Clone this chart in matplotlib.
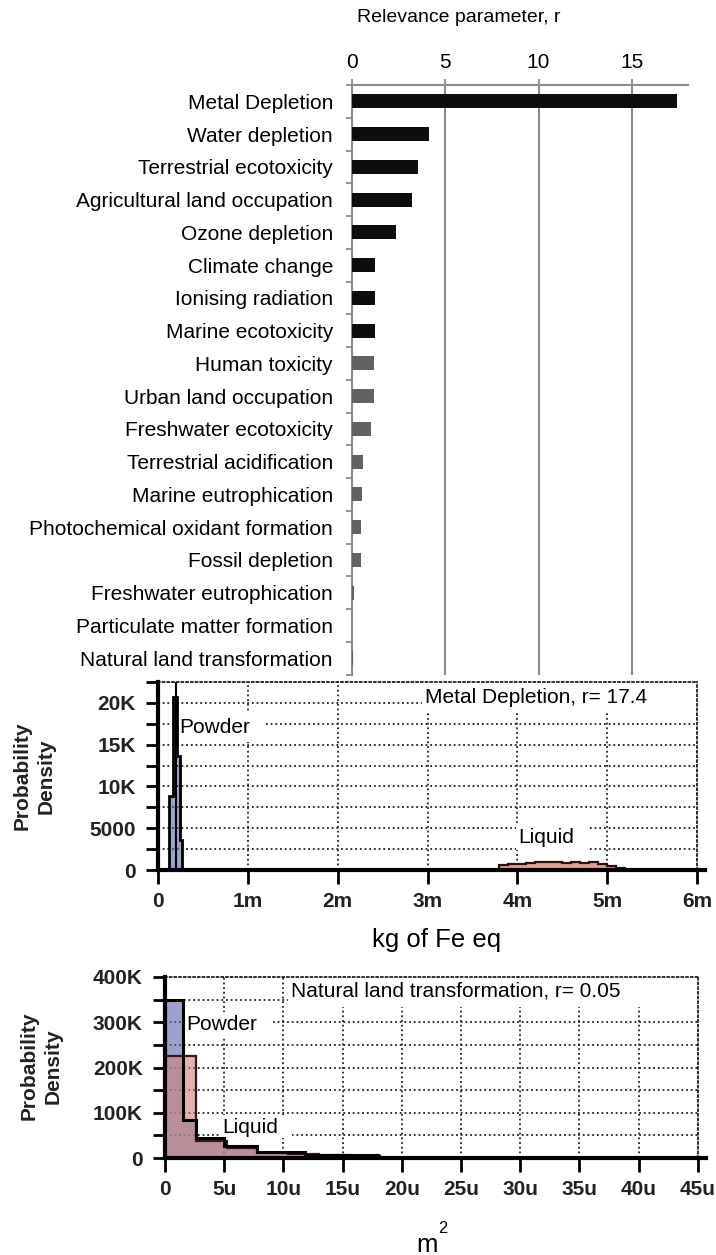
import numpy as np
import matplotlib
matplotlib.use('Agg')
import matplotlib.pyplot as plt
from matplotlib.patches import Rectangle
from matplotlib.ticker import FuncFormatter

plt.rcParams['font.family'] = ['Liberation Sans', 'DejaVu Sans']

# relevance parameter r per impact category
categories = ['Metal Depletion', 'Water depletion', 'Terrestrial ecotoxicity',
              'Agricultural land occupation', 'Ozone depletion', 'Climate change',
              'Ionising radiation', 'Marine ecotoxicity', 'Human toxicity',
              'Urban land occupation', 'Freshwater ecotoxicity', 'Terrestrial acidification',
              'Marine eutrophication', 'Photochemical oxidant formation', 'Fossil depletion',
              'Freshwater eutrophication', 'Particulate matter formation',
              'Natural land transformation']
relevance = [17.43, 4.16, 3.57, 3.25, 2.39, 1.27, 1.27, 1.27, 1.18, 1.18, 1.04,
             0.63, 0.57, 0.50, 0.48, 0.11, 0.01, 0.05]
significant = [True] * 8 + [False] * 10

# Metal depletion, kg Fe eq (probability density)
md_powder_edges = [0.128e-3, 0.168e-3, 0.209e-3, 0.240e-3, 0.270e-3]
md_powder_dens = [8800, 20700, 13700, 3600]
md_powder_line = 0.197e-3
md_liquid_edges = [3.8e-3, 3.9e-3, 4.0e-3, 4.1e-3, 4.2e-3, 4.3e-3, 4.4e-3, 4.5e-3,
                   4.6e-3, 4.7e-3, 4.8e-3, 4.9e-3, 5.0e-3, 5.1e-3, 5.2e-3]
md_liquid_dens = [550, 700, 750, 850, 950, 1000, 900, 850, 950, 800, 900, 750, 450, 250]
md_xticklabels = ['0', '1m', '2m', '3m', '4m', '5m', '6m']

# Natural land transformation, m2 (probability density)
nlt_powder_edges = [0, 1.5e-6, 2.6e-6, 4.95e-6, 7.8e-6, 11.8e-6, 18.0e-6]
nlt_powder_dens = [350e3, 84e3, 45e3, 27e3, 13e3, 6e3]
nlt_liquid_edges = [0, 2.6e-6, 5.2e-6, 7.8e-6, 10.4e-6, 13.0e-6, 15.6e-6, 18.2e-6]
nlt_liquid_dens = [225e3, 38e3, 22e3, 12e3, 8e3, 6e3, 5e3]
nlt_xticklabels = ['0', '5u', '10u', '15u', '20u', '25u', '30u', '35u', '40u', '45u']

W, H = 716, 1255
fig = plt.figure(figsize=(W / 100, H / 100), dpi=100)

def frac(l, t, r, b):
    return [l / W, 1 - b / H, (r - l) / W, (b - t) / H]

# ---------------- top bar chart ----------------
gray = '#8c8c8c'
ax = fig.add_axes(frac(351.7, 85, 688, 674.5))
y = np.arange(len(categories))
colors = ['#0d0d0d' if s else '#626262' for s in significant]
ax.barh(y, relevance, height=0.43, color=colors, zorder=3)
ax.set_xlim(0, 18)
ax.set_ylim(17.5, -0.5)
ax.xaxis.tick_top()
ax.set_xticks([0, 5, 10, 15])
ax.set_yticks(y)
ax.set_yticklabels(categories)
ax.set_yticks(np.arange(-0.5, 18, 1), minor=True)
ax.tick_params(axis='y', which='major', length=0, pad=13.5, labelsize=15)
ax.tick_params(axis='y', which='minor', length=4.3, width=1.3, color=gray)
ax.tick_params(axis='x', length=4.3, width=1.3, color=gray, labelsize=15, pad=5)
ax.grid(axis='x', color=gray, lw=1.5, zorder=0)
for s in ['right', 'bottom']:
    ax.spines[s].set_visible(False)
for s in ['top', 'left']:
    ax.spines[s].set_color(gray)
    ax.spines[s].set_linewidth(1.5)
fig.text(357 / W, 1 - 17 / H, 'Relevance parameter, r', fontsize=14, ha='left', va='center')

# ---------------- distribution panels ----------------
powder_fc = '#5a62aa'
liquid_fc = '#d0837a'
dot = (0, (1, 1.6))

def kfmt(v, pos):
    if v == 0:
        return '0'
    if v % (2 * step_holder[0]) != 0:
        return ''
    return f'{v / 1000:.0f}K' if v >= 10000 else f'{v:.0f}'

def style_panel(ax, xmax, xtick_step, xlabels, ymax, ystep):
    ax.set_xlim(0, xmax)
    ax.set_ylim(0, ymax)
    ax.set_xticks(np.arange(len(xlabels)) * xtick_step)
    ax.set_xticklabels(xlabels)
    yt = np.arange(0, ymax + ystep / 2, ystep)
    ax.set_yticks(yt)
    ax.set_yticklabels([('0' if v == 0 else (f'{v / 1000:.0f}K' if v >= 10000 else f'{v:.0f}'))
                        if i % 2 == 0 else '' for i, v in enumerate(yt)])
    ax.set_axisbelow(True)
    ax.grid(True, color='#222222', lw=1.3, linestyle=dot)
    for s in ['top', 'right']:
        ax.spines[s].set_linestyle(dot)
        ax.spines[s].set_linewidth(1.3)
        ax.spines[s].set_color('#222222')
    for s in ['left', 'bottom']:
        ax.spines[s].set_linewidth(3)
        ax.spines[s].set_color('black')
        ax.spines[s].set_zorder(5)
    ax.tick_params(axis='y', length=9, width=2, pad=7, labelsize=15, labelcolor='#222222')
    ax.tick_params(axis='x', length=10, width=2, pad=6, labelsize=15, labelcolor='#222222')
    for lab in ax.get_xticklabels() + ax.get_yticklabels():
        lab.set_fontweight('bold')
    ax.plot([xmax, xmax * 1.015], [0, 0], color='black', lw=3, clip_on=False, zorder=5)

def label_box(ax, x0, x1, y0, y1):
    ax.add_patch(Rectangle((x0, y0), x1 - x0, y1 - y0, facecolor='white',
                           edgecolor='none', zorder=1.2))

# panel 1: Metal depletion
ax1 = fig.add_axes(frac(158, 682, 697, 870))
style_panel(ax1, 6e-3, 1e-3, md_xticklabels, 22500, 2500)
ax1.stairs(md_powder_dens, md_powder_edges, fill=True, color=powder_fc, alpha=0.6, zorder=2)
ax1.stairs(md_powder_dens, md_powder_edges, color='black', lw=2, zorder=2.5)
ax1.stairs(md_liquid_dens, md_liquid_edges, fill=True, color=liquid_fc, alpha=0.75, zorder=2)
ax1.stairs(md_liquid_dens, md_liquid_edges, color='#2a1010', lw=1.6, zorder=2.5)
ax1.axvline(md_powder_line, color='black', lw=1.5, zorder=2.5)
label_box(ax1, 2.944e-3, 6e-3, 18940, 22500)
label_box(ax1, 0.211e-3, 1.178e-3, 15350, 18940)
label_box(ax1, 3.99e-3, 4.8e-3, 2400, 5280)
ax1.text(2.97e-3, 20600, 'Metal Depletion, r= 17.4', fontsize=15, va='center', zorder=3)
ax1.text(0.233e-3, 17000, 'Powder', fontsize=15, va='center', zorder=3)
ax1.text(4.01e-3, 3840, 'Liquid', fontsize=15, va='center', zorder=3)
fig.text(34 / W, 1 - 776 / H, 'Probability\nDensity', rotation=90, fontsize=15,
         fontweight='bold', ha='center', va='center', multialignment='center',
         linespacing=1.35, color='#222222')
fig.text(371.7 / W, 1 - 940 / H, 'kg of Fe eq', fontsize=18.5, ha='left', va='center')

# panel 2: Natural land transformation
ax2 = fig.add_axes(frac(165, 977, 697.7, 1158))
style_panel(ax2, 45e-6, 5e-6, nlt_xticklabels, 400e3, 50e3)
ax2.stairs(nlt_powder_dens, nlt_powder_edges, fill=True, color=powder_fc, alpha=0.6, zorder=2)
ax2.stairs(nlt_liquid_dens, nlt_liquid_edges, fill=True, color=liquid_fc, alpha=0.6, zorder=2.1)
ax2.stairs(nlt_liquid_dens, nlt_liquid_edges, color='#3a1515', lw=1.6, zorder=2.5)
ax2.stairs(nlt_powder_dens, nlt_powder_edges, color='black', lw=2.2, zorder=2.6)
label_box(ax2, 10.4e-6, 45e-6, 333e3, 400e3)
label_box(ax2, 1.6e-6, 8.85e-6, 269e3, 322e3)
label_box(ax2, 4.72e-6, 10.7e-6, 44e3, 95e3)
ax2.text(10.68e-6, 369e3, 'Natural land transformation, r= 0.05', fontsize=15, va='center', zorder=3)
ax2.text(1.83e-6, 296e3, 'Powder', fontsize=15, va='center', zorder=3)
ax2.text(4.87e-6, 68e3, 'Liquid', fontsize=15, va='center', zorder=3)
fig.text(41 / W, 1 - 1066 / H, 'Probability\nDensity', rotation=90, fontsize=15,
         fontweight='bold', ha='center', va='center', multialignment='center',
         linespacing=1.35, color='#222222')
fig.text(427 / W, 1 - 1252 / H, 'm', fontsize=18.5, ha='center', va='baseline')
fig.text(443 / W, 1 - 1233 / H, '2', fontsize=11.7, ha='center', va='baseline')

fig.savefig('out.png', dpi=100)
